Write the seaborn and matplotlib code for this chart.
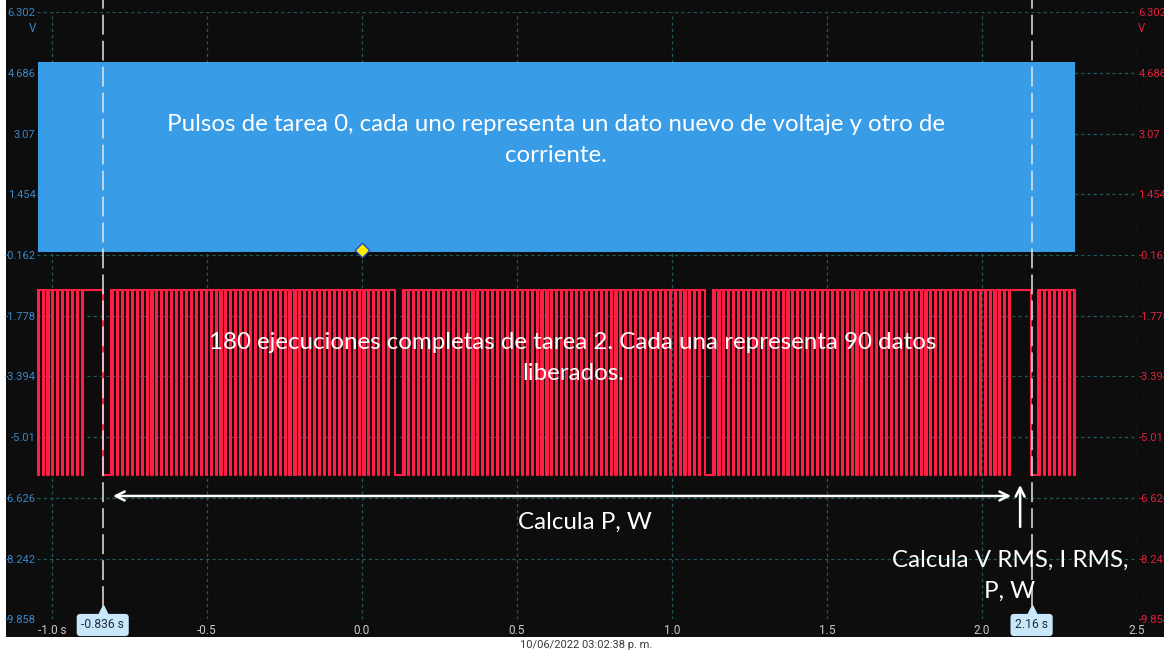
import numpy as np
import pandas as pd
import matplotlib
matplotlib.use("Agg")
import matplotlib.pyplot as plt
import seaborn as sns
from matplotlib.patches import Rectangle

# ---------------- data ----------------
x_ticks = [-1.0, -0.5, 0.0, 0.5, 1.0, 1.5, 2.0, 2.5]
x_tick_labels = ["-1.0 s", "-0.5", "0.0", "0.5", "1.0", "1.5", "2.0", "2.5"]
y_ticks = [6.302, 4.686, 3.07, 1.454, -0.162, -1.778, -3.394, -5.01, -6.626, -8.242, -9.858]
y_tick_labels = ["6.302", "4.686", "3.07", "1.454", "-0.162", "-1.778", "-3.394",
                 "-5.01", "-6.626", "-8.242", "-9.858"]

# channel A (blue): dense pulse train, drawn as its envelope
blue_time = [-1.046, 2.300]
blue_high = 4.99
blue_low = -0.09

# channel B (red): digital signal, high with short low pulses (task 2)
red_high = -1.08
red_low = -6.02
red_time_start = -1.048
red_time_end = 2.300
pulse_period = 0.0159       # 180 executions in ~3 s
pulse_width = 0.0035
pulse_seg_start = [-1.046, -0.806, 0.134, 1.134, 2.184]
pulse_seg_end = [-0.902, 0.100, 1.100, 2.100, 2.296]
# long low periods (task 1 : V RMS, I RMS, P, W)
gap_start = [-0.836, 0.106, 1.106, 2.158]
gap_end = [-0.810, 0.132, 1.132, 2.181]

marker_t = [0.0]
marker_v = [-0.03]

cursor_t = [-0.836, 2.16]
cursor_labels = ["-0.836 s", "2.16 s"]

timestamp = "10/06/2022 03:02:38 p. m."

# ---------------- build red step trace ----------------
events = []
for s, e in zip(pulse_seg_start, pulse_seg_end):
    for t in np.arange(s, e, pulse_period):
        events.append((t, t + pulse_width))
for s, e in zip(gap_start, gap_end):
    events.append((s, e))
events.sort()
t_vals = [red_time_start]
v_vals = [red_high]
for s, e in events:
    t_vals += [s, e]
    v_vals += [red_low, red_high]
t_vals.append(red_time_end)
v_vals.append(red_high)
red_df = pd.DataFrame({"t": t_vals, "v": v_vals})

# ---------------- style ----------------
sns.set_theme(style="dark")
plt.rcParams["font.family"] = ["Roboto", "DejaVu Sans"]

BG = "#0d0d0d"
BLUE = "#389ce7"
RED = "#ff1f45"
BLUE_LBL = "#3b87c9"
RED_LBL = "#e3213c"
GRID = "#1f5a5e"

W, H = 1164, 653
fig = plt.figure(figsize=(W / 100, H / 100), dpi=100, facecolor="white")
fig.patches.append(Rectangle((6 / W, 16 / H), 1158 / W, 637 / H,
                             transform=fig.transFigure, facecolor=BG,
                             edgecolor="none", zorder=-10))
ax_top_px, ax_bot_px = 12.3, 619.3
ax = fig.add_axes([37 / W, (H - ax_bot_px) / H, 1100 / W, (ax_bot_px - ax_top_px) / H])
ax.set_facecolor("none")
ax.set_xlim(-1.048, 2.5)
ax.set_ylim(-9.858, 6.302)
for sp in ax.spines.values():
    sp.set_visible(False)

ax.set_axisbelow(True)
ax.grid(True, color=GRID, linestyle=(0, (2.5, 2.5)), linewidth=0.9)

# blue channel
ax.fill_between(blue_time, blue_low, blue_high, color=BLUE, lw=0, zorder=2)

# red channel
sns.lineplot(data=red_df, x="t", y="v", estimator=None, sort=False,
             drawstyle="steps-post", color=RED, lw=1.5, ax=ax, zorder=3)

# yellow trigger marker
sns.scatterplot(x=marker_t, y=marker_v, marker="D", s=55, color="#ffee00",
                edgecolor="#2448c8", linewidth=1.0, ax=ax, zorder=6)

ax.set_xlabel("")
ax.set_ylabel("")

# ticks
ax.set_xticks(x_ticks)
ax.set_xticklabels(x_tick_labels)
ax.set_yticks(y_ticks)
ax.set_yticklabels(y_tick_labels)
ax.tick_params(axis="x", length=0, pad=3.5, labelsize=8.5, labelcolor="#c9c9c9")
ax.tick_params(axis="y", length=0, pad=1, labelsize=8,
               labelleft=True, labelright=True)
for tk in ax.yaxis.get_major_ticks():
    tk.label1.set_color(BLUE_LBL)
    tk.label2.set_color(RED_LBL)
fig.text(33 / W, 1 - 28 / H, "V", color=BLUE_LBL, fontsize=8.3, ha="center", va="center")
fig.text(1142 / W, 1 - 28 / H, "V", color=RED_LBL, fontsize=8.3, ha="center", va="center")

# cursors
def yfrac(px):
    return (ax_bot_px - px) / (ax_bot_px - ax_top_px)

xt = ax.get_xaxis_transform()
for ct, cl in zip(cursor_t, cursor_labels):
    ax.axvline(ct, ymin=yfrac(606), ymax=yfrac(0), color="#e6e6e6", lw=1.1,
               dashes=(13, 4), clip_on=False, zorder=5)
    ax.plot([ct], [yfrac(610)], marker="^", ms=7, color="#c8e7fb",
            transform=xt, clip_on=False, zorder=7)
    ax.text(ct, yfrac(625), cl, transform=xt, ha="center", va="center",
            fontsize=8.7, color="#1e2c3a", zorder=8, clip_on=False,
            bbox=dict(boxstyle="round,pad=0.38,rounding_size=0.3",
                      facecolor="#c8e7fb", edgecolor="none"))

# annotations
TXT_FONT = ["Lato", "DejaVu Sans"]
FS = 17.4
LS = 1.6
ax.text(0.626, 2.90,
        "Pulsos de tarea 0, cada uno representa un dato nuevo de voltaje y otro de\ncorriente.",
        ha="center", va="center", color="white", fontsize=FS, family=TXT_FONT,
        linespacing=LS, zorder=9)
ax.text(0.681, -2.90,
        "180 ejecuciones completas de tarea 2. Cada una representa 90 datos\nliberados.",
        ha="center", va="center", color="white", fontsize=FS, family=TXT_FONT,
        linespacing=LS, zorder=9)
ax.text(0.719, -7.27, "Calcula P, W", ha="center", va="center", color="white",
        fontsize=FS, family=TXT_FONT, zorder=9)
ax.text(2.090, -8.70, "Calcula V RMS, I RMS,\nP, W", ha="center", va="center",
        color="white", fontsize=FS, family=TXT_FONT, linespacing=LS, zorder=9)

ax.annotate("", xy=(-0.803, -6.575), xytext=(2.094, -6.575),
            arrowprops=dict(arrowstyle="<->", color="white", lw=1.8,
                            mutation_scale=16, shrinkA=0, shrinkB=0), zorder=9)
ax.annotate("", xy=(2.123, -6.28), xytext=(2.123, -7.40),
            arrowprops=dict(arrowstyle="->", color="white", lw=1.8,
                            mutation_scale=16, shrinkA=0, shrinkB=0), zorder=9)

fig.text(586 / W, 1 - 645 / H, timestamp, fontsize=8, color="#3a3a3a",
         ha="center", va="center")

fig.savefig("out.png", dpi=100, facecolor=fig.get_facecolor())
